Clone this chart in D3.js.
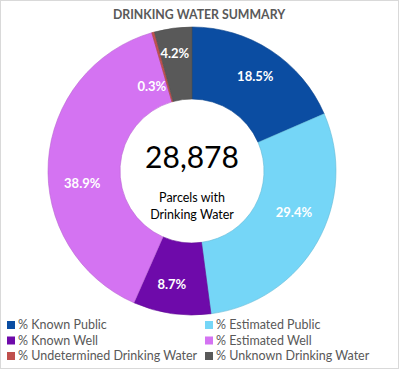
<!DOCTYPE html>
<html><head><meta charset="utf-8">
<script src="https://cdn.jsdelivr.net/npm/d3@7"></script>
<style>body{margin:0;background:#fff}svg{display:block}</style>
</head><body>
<svg id="c" width="400" height="370"></svg>
<script>
const categories = ["% Known Public","% Estimated Public","% Known Well","% Estimated Well","% Undetermined Drinking Water","% Unknown Drinking Water"];
const values = [18.5, 29.4, 8.7, 38.9, 0.3, 4.2];
const labels = ["18.5%","29.4%","8.7%","38.9%","0.3%","4.2%"];
const colors = ["#0B4DA2","#75D6F7","#6E0AAA","#D473F2","#C0504D","#595959"];
const title = "DRINKING WATER SUMMARY";
const totalLabel = "28,878";
const centerLines = ["Parcels with","Drinking Water"];
// label nudges (px) relative to arc centroid
const labelNudge = [[4,-4],[8,-12],[-5,7],[-2,20],[-11,19],[-3,-11]];

const svg = d3.select("#c");
const font = "Lato, 'Open Sans', sans-serif";
svg.append("rect").attr("x",0.5).attr("y",0.5).attr("width",398).attr("height",368)
  .attr("fill","#fff").attr("stroke","#D9D9D9");

svg.append("text").attr("x",199).attr("y",19).attr("text-anchor","middle")
  .attr("font-family",font).attr("font-weight","bold").attr("font-size",12.3)
  .attr("letter-spacing",0).attr("fill","#595959").text(title);

const cx = 192, cy = 171, R = 144, r = 72;
const g = svg.append("g").attr("transform",`translate(${cx},${cy})`);
const pie = d3.pie().sort(null).value(d=>d);
const arcs = pie(values);
const arc = d3.arc().innerRadius(r).outerRadius(R);
g.selectAll("path").data(arcs).join("path").attr("d",arc)
  .attr("fill",(d,i)=>colors[i])
  .attr("stroke",(d,i)=>d3.color(colors[i]).darker(0.4)).attr("stroke-width",0.6);

g.selectAll("text.lbl").data(arcs).join("text").attr("class","lbl")
  .attr("transform",(d,i)=>{const c=arc.centroid(d);return `translate(${c[0]+labelNudge[i][0]},${c[1]+labelNudge[i][1]})`;})
  .attr("text-anchor","middle").attr("dy","0.35em")
  .attr("font-family",font).attr("font-weight","bold").attr("font-size",13)
  .attr("fill","#fff").text((d,i)=>labels[i]);

g.append("text").attr("x",0).attr("y",-3).attr("text-anchor","middle")
  .attr("font-family",font).attr("font-size",30).attr("fill","#000").text(totalLabel);
centerLines.forEach((t,i)=>{
  g.append("text").attr("x",0).attr("y",31+i*17).attr("text-anchor","middle")
   .attr("font-family",font).attr("font-size",12.5).attr("fill","#000").text(t);
});

const leg = svg.append("g");
categories.forEach((c,i)=>{
  const col = i%2, row = Math.floor(i/2);
  const x = col===0 ? 7 : 205, y = 325 + row*15.5;
  leg.append("rect").attr("x",x).attr("y",y-4).attr("width",8).attr("height",8).attr("fill",colors[i]);
  leg.append("text").attr("x",x+11).attr("y",y).attr("dy","0.35em")
    .attr("font-family",font).attr("font-size",12.5).attr("fill","#595959").text(c);
});
</script>
</body></html>
